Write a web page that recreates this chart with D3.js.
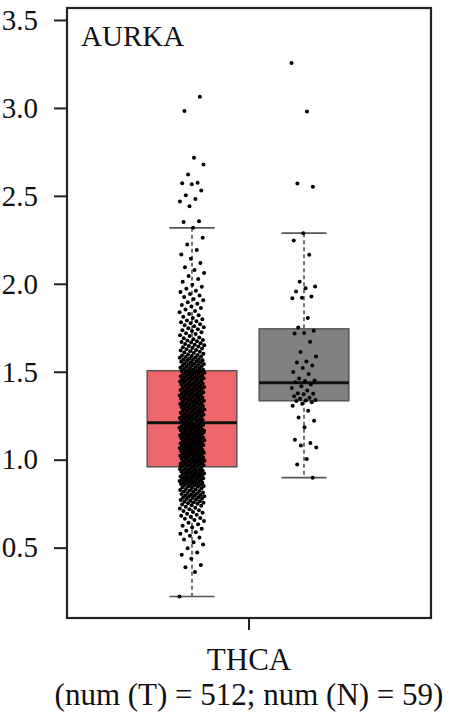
<!DOCTYPE html>
<html>
<head>
<meta charset="utf-8">
<script src="https://cdn.jsdelivr.net/npm/d3@7"></script>
<style>
  body { margin: 0; background: #fff; }
  svg text { font-family: "Liberation Serif", "DejaVu Serif", serif; fill: #111; }
</style>
</head>
<body>
<div id="chart"></div>
<script>
// data
const gene = 'AURKA'
const cancer = 'THCA'
const groups = ['Tumor', 'Normal']
const groupColors = ['#ef676b', '#808080']
const yTicks = [0.5, 1.0, 1.5, 2.0, 2.5, 3.0, 3.5]
// box stats: [whiskerLow, q1, median, q3, whiskerHigh]
const tumorBox = [0.222, 0.960, 1.210, 1.506, 2.318]
const normalBox = [0.898, 1.335, 1.437, 1.744, 2.288]

const tumorValues = [
  0.222, 0.361, 0.388, 0.402, 0.437, 0.459, 0.472, 0.497, 0.518, 0.531, 0.546,
  0.558, 0.567, 0.579, 0.588, 0.596, 0.607, 0.615, 0.624, 0.633, 0.642,
  0.651, 0.657, 0.664, 0.668, 0.676, 0.681, 0.687, 0.692, 0.698, 0.703,
  0.709, 0.713, 0.718, 0.722, 0.727, 0.733, 0.738, 0.741, 0.745, 0.749,
  0.752, 0.755, 0.758, 0.761, 0.764, 0.767, 0.771, 0.773, 0.776, 0.779,
  0.782, 0.784, 0.787, 0.789, 0.792, 0.795, 0.797, 0.799, 0.802, 0.805,
  0.808, 0.811, 0.813, 0.816, 0.819, 0.822, 0.825, 0.828, 0.831, 0.834,
  0.837, 0.840, 0.843, 0.846, 0.849, 0.851, 0.853, 0.856, 0.858, 0.860,
  0.862, 0.864, 0.867, 0.869, 0.871, 0.873, 0.875, 0.877, 0.879, 0.881,
  0.883, 0.885, 0.887, 0.889, 0.891, 0.893, 0.895, 0.897, 0.899, 0.901,
  0.903, 0.905, 0.907, 0.909, 0.911, 0.913, 0.915, 0.917, 0.919, 0.921,
  0.923, 0.925, 0.927, 0.929, 0.931, 0.933, 0.935, 0.937, 0.939, 0.941,
  0.943, 0.945, 0.947, 0.949, 0.951, 0.954, 0.957,
  0.962, 0.963, 0.966, 0.968, 0.969, 0.972, 0.974, 0.975, 0.978, 0.981,
  0.982, 0.984, 0.987, 0.988, 0.991, 0.993, 0.994, 0.997, 0.999, 1.001,
  1.003, 1.006, 1.007, 1.009, 1.012, 1.014, 1.015, 1.018, 1.021, 1.022,
  1.024, 1.026, 1.029, 1.031, 1.032, 1.035, 1.037, 1.039, 1.041, 1.043,
  1.046, 1.047, 1.049, 1.052, 1.054, 1.055, 1.058, 1.061, 1.062, 1.064,
  1.066, 1.069, 1.071, 1.072, 1.075, 1.077, 1.079, 1.081, 1.083, 1.086,
  1.087, 1.089, 1.092, 1.094, 1.095, 1.098, 1.101, 1.102, 1.104, 1.106,
  1.109, 1.111, 1.112, 1.115, 1.117, 1.119, 1.121, 1.123, 1.126, 1.127,
  1.129, 1.132, 1.134, 1.135, 1.138, 1.141, 1.142, 1.144, 1.146, 1.149,
  1.151, 1.152, 1.155, 1.157, 1.159, 1.161, 1.163, 1.166, 1.167, 1.169,
  1.172, 1.174, 1.175, 1.178, 1.181, 1.182, 1.184, 1.186, 1.189, 1.191,
  1.192, 1.195, 1.197, 1.199, 1.201, 1.203, 1.206, 1.207,
  0.965, 0.989, 1.011, 1.036, 1.059, 1.084, 1.108, 1.137, 1.164, 1.188,
  1.211, 1.213, 1.216, 1.218, 1.221, 1.223, 1.225, 1.228, 1.230, 1.232,
  1.235, 1.237, 1.239, 1.242, 1.244, 1.246, 1.249, 1.251, 1.253, 1.256,
  1.258, 1.260, 1.263, 1.265, 1.267, 1.270, 1.272, 1.274, 1.277, 1.279,
  1.281, 1.284, 1.286, 1.288, 1.291, 1.293, 1.295, 1.298, 1.300, 1.302,
  1.305, 1.307, 1.309, 1.312, 1.314, 1.316, 1.319, 1.321, 1.323, 1.326,
  1.328, 1.330, 1.333, 1.335, 1.337, 1.340, 1.342, 1.344, 1.347, 1.349,
  1.351, 1.354, 1.356, 1.358, 1.361, 1.363, 1.365, 1.368, 1.370, 1.372,
  1.375, 1.377, 1.379, 1.382, 1.384, 1.386, 1.389, 1.391, 1.393, 1.396,
  1.398, 1.400, 1.403, 1.405, 1.407, 1.410, 1.412, 1.414, 1.417, 1.419,
  1.421, 1.424, 1.426, 1.428, 1.431, 1.433, 1.435, 1.438, 1.440, 1.442,
  1.445, 1.447, 1.449, 1.452, 1.454, 1.456, 1.459, 1.461, 1.463, 1.466,
  1.468, 1.470, 1.473, 1.475, 1.477, 1.480, 1.482, 1.484, 1.487, 1.489,
  1.492, 1.495, 1.497, 1.499, 1.501, 1.503, 1.504, 1.505,
  1.508, 1.511, 1.513, 1.516, 1.518, 1.521, 1.523, 1.526, 1.528, 1.531,
  1.534, 1.536, 1.539, 1.541, 1.544, 1.546, 1.549, 1.552, 1.554, 1.557,
  1.560, 1.562, 1.565, 1.568, 1.570, 1.573, 1.576, 1.579, 1.581, 1.584,
  1.587, 1.590, 1.592, 1.595, 1.598,
  1.602, 1.606, 1.609, 1.613, 1.617, 1.621, 1.624, 1.628, 1.632, 1.636,
  1.639, 1.643, 1.647, 1.651, 1.654, 1.658, 1.662, 1.666, 1.669, 1.673,
  1.677, 1.681, 1.685, 1.690, 1.695,
  1.703, 1.708, 1.714, 1.719, 1.725, 1.731, 1.736, 1.742, 1.748, 1.753,
  1.759, 1.764, 1.770, 1.776, 1.781, 1.787, 1.792, 1.798,
  1.806, 1.813, 1.821, 1.829, 1.838, 1.846, 1.854, 1.862, 1.871, 1.879,
  1.887, 1.895,
  1.906, 1.914, 1.925, 1.933, 1.942, 1.953, 1.961, 1.972, 1.983, 1.994,
  2.012, 2.028, 2.045, 2.061, 2.078, 2.094,
  2.118, 2.143, 2.167, 2.192, 2.224, 2.262, 2.318,
  2.352, 2.356, 2.441, 2.468, 2.482, 2.503, 2.531, 2.566, 2.571, 2.574,
  2.622, 2.678, 2.716, 2.982, 3.063
]

const normalValues = [
  3.256, 2.980, 2.570, 2.552, 2.288, 2.246, 2.165, 2.011, 1.985, 1.975,
  1.956, 1.928, 1.920, 1.918, 1.805, 1.752, 1.733, 1.720, 1.718, 1.670,
  1.612, 1.587, 1.558, 1.553, 1.536, 1.521, 1.498, 1.487, 1.462, 1.450,
  1.447, 1.441, 1.428, 1.418, 1.407, 1.394, 1.378, 1.375, 1.372, 1.360,
  1.352, 1.347, 1.340, 1.337, 1.334, 1.326, 1.318, 1.307, 1.278, 1.240,
  1.222, 1.185, 1.114, 1.095, 1.080, 1.070, 1.004, 0.972, 0.898
]

const width = 458, height = 723
const frame = {left: 67, right: 431, top: 8, bottom: 618}

const svg = d3.select('#chart').append('svg')
  .attr('width', width)
  .attr('height', height)

const y = d3.scaleLinear().domain([0.1, 3.568]).range([frame.bottom, frame.top])
const xCat = d3.scaleBand().domain([cancer]).range([frame.left, frame.right])
const x = d3.scaleBand().domain(groups).range([136, 360]).paddingInner(0).paddingOuter(0)
const boxW = x.bandwidth() * 0.8
const capW = 45

// y axis
const yAxis = svg.append('g')
  .attr('transform', `translate(${frame.left},0)`)
  .call(d3.axisLeft(y).tickValues(yTicks).tickFormat(d3.format('.1f')).tickSize(13).tickPadding(16))
yAxis.select('.domain').remove()
yAxis.selectAll('.tick line').attr('stroke', '#222').attr('stroke-width', 2)
yAxis.selectAll('.tick text').attr('font-size', 29).attr('fill', '#111')
  .attr('font-family', '"Liberation Serif", serif')

// x axis
const xAxis = svg.append('g')
  .attr('transform', `translate(0,${frame.bottom})`)
  .call(d3.axisBottom(xCat).tickSize(12).tickPadding(18))
xAxis.select('.domain').remove()
xAxis.selectAll('.tick line').attr('stroke', '#222').attr('stroke-width', 2)
xAxis.selectAll('.tick text').attr('font-size', 31).attr('fill', '#111')
  .attr('font-family', '"Liberation Serif", serif')

svg.append('text')
  .attr('x', xCat(cancer) + xCat.bandwidth() / 2)
  .attr('y', 705)
  .attr('text-anchor', 'middle')
  .attr('font-size', 31)
  .text(`(num (T) = ${tumorValues.length}; num (N) = ${normalValues.length})`)

// frame
svg.append('rect')
  .attr('x', frame.left).attr('y', frame.top)
  .attr('width', frame.right - frame.left).attr('height', frame.bottom - frame.top)
  .attr('fill', 'none').attr('stroke', '#222').attr('stroke-width', 2.2)

svg.append('text')
  .attr('x', 81).attr('y', 46)
  .attr('font-size', 29)
  .text(gene)

const sets = [
  {name: groups[0], box: tumorBox, values: tumorValues, color: groupColors[0]},
  {name: groups[1], box: normalBox, values: normalValues, color: groupColors[1]}
]

sets.forEach(s => {
  const cx = x(s.name) + x.bandwidth() / 2
  const [lo, q1, med, q3, hi] = s.box
  const g = svg.append('g')

  g.append('rect')
    .attr('x', cx - boxW / 2).attr('y', y(q3))
    .attr('width', boxW).attr('height', y(q1) - y(q3))
    .attr('fill', s.color).attr('stroke', '#555').attr('stroke-width', 1.5)

  g.append('line')
    .attr('x1', cx - boxW / 2).attr('x2', cx + boxW / 2)
    .attr('y1', y(med)).attr('y2', y(med))
    .attr('stroke', '#111').attr('stroke-width', 3)

  // dashed whiskers
  g.selectAll('.whisker').data([[hi, q3], [q1, lo]]).join('line')
    .attr('x1', cx).attr('x2', cx)
    .attr('y1', d => y(d[0])).attr('y2', d => y(d[1]))
    .attr('stroke', '#444').attr('stroke-width', 1.5).attr('stroke-dasharray', '4,3')

  g.selectAll('.cap').data([lo, hi]).join('line')
    .attr('x1', cx - capW / 2).attr('x2', cx + capW / 2)
    .attr('y1', d => y(d)).attr('y2', d => y(d))
    .attr('stroke', '#555').attr('stroke-width', 1.6)

  // jittered points, spread by golden ratio step
  g.selectAll('circle').data(s.values).join('circle')
    .attr('cx', (d, i) => cx + (((i * 0.618034) % 1) - 0.5) * 25)
    .attr('cy', d => y(d))
    .attr('r', 2)
    .attr('fill', '#000')
})
</script>
</body>
</html>
